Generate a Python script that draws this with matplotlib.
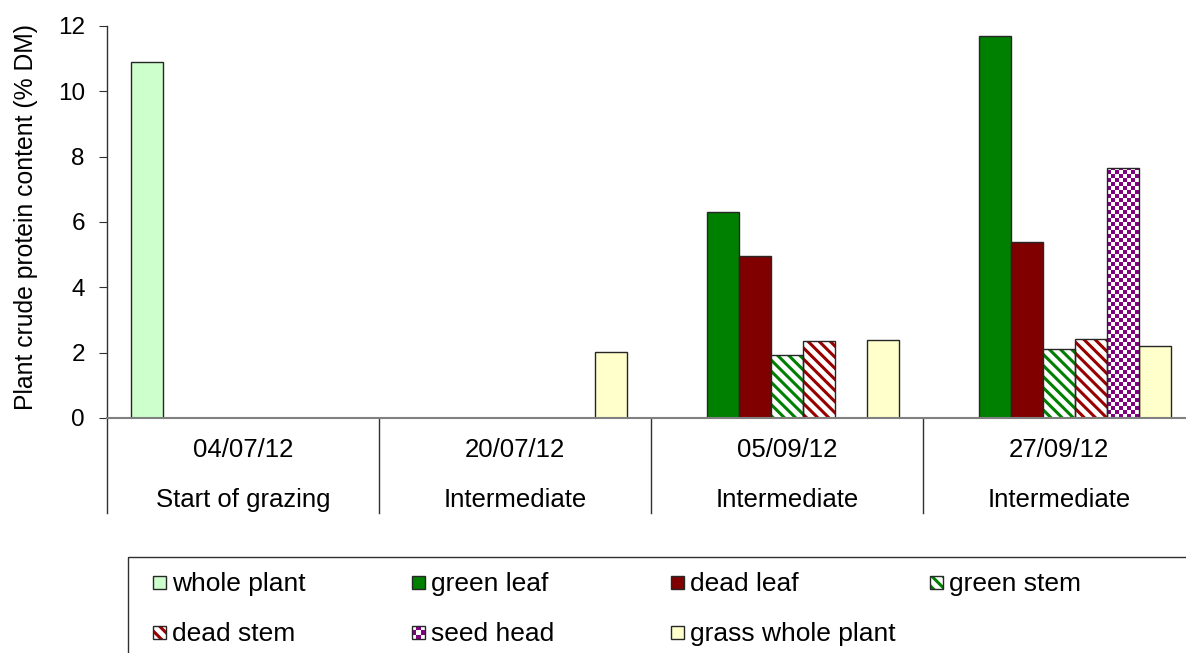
import matplotlib
matplotlib.use("Agg")
import matplotlib.pyplot as plt
from matplotlib.patches import Rectangle
from matplotlib.colors import ListedColormap
from matplotlib.transforms import blended_transform_factory
import numpy as np

plt.rcParams['font.family'] = ['Liberation Sans', 'DejaVu Sans']
plt.rcParams['hatch.linewidth'] = 2.2

dates = ["04/07/12", "20/07/12", "05/09/12", "27/09/12"]
stages = ["Start of grazing", "Intermediate", "Intermediate", "Intermediate"]
series_names = ["whole plant", "green leaf", "dead leaf", "green stem",
                "dead stem", "seed head", "grass whole plant"]
# values per series across the 4 dates (None = no bar)
whole_plant = [10.9, None, None, None]
green_leaf = [None, None, 6.32, 11.68]
dead_leaf = [None, None, 4.95, 5.38]
green_stem = [None, None, 1.93, 2.11]
dead_stem = [None, None, 2.36, 2.43]
seed_head = [None, None, None, 7.65]
grass_whole_plant = [None, 2.02, 2.40, 2.20]
all_values = [whole_plant, green_leaf, dead_leaf, green_stem, dead_stem,
              seed_head, grass_whole_plant]

# style: (kind, facecolor, patterncolor)
styles = [
    ("solid", "#CCFFCC", None),
    ("solid", "#008000", None),
    ("solid", "#800000", None),
    ("stripe", "white", "#008000"),
    ("stripe", "white", "#990000"),
    ("checker", "white", "#800080"),
    ("solid", "#FFFFCC", None),
]
EDGE = "#262626"

W, H = 1186, 653
fig = plt.figure(figsize=(W / 100, H / 100), dpi=100)
x0, x1 = 107, 107 + 4 * 272
y0, y1 = 418, 26
ax = fig.add_axes([x0 / W, (H - y0) / H, (x1 - x0) / W, (y0 - y1) / H])

bw = 32 / 272
x = np.arange(len(dates))
cell = 4  # checker cell size in pixels
for k, (vals, (kind, fc, pc)) in enumerate(zip(all_values, styles)):
    xs = [x[i] + (k - 3) * bw for i, v in enumerate(vals) if v is not None]
    ys = [v for v in vals if v is not None]
    if not xs:
        continue
    if kind == "solid":
        ax.bar(xs, ys, width=bw, color=fc, edgecolor=EDGE, linewidth=1.0, zorder=2)
    elif kind == "stripe":
        ax.bar(xs, ys, width=bw, color=fc, edgecolor=pc, hatch="\\\\\\", linewidth=0,
               zorder=2)
        ax.bar(xs, ys, width=bw, fill=False, edgecolor=EDGE, linewidth=1.0, zorder=3)
    else:
        bars = ax.bar(xs, ys, width=bw, color=fc, linewidth=0, zorder=2)
        nx, ny = (x1 - x0) // cell, (y0 - y1) // cell
        checker = (np.add.outer(np.arange(ny), np.arange(nx)) % 2).astype(float)
        for b in bars:
            im = ax.imshow(checker, extent=(-0.5, 3.5, 0, 12), origin="lower",
                           cmap=ListedColormap(["white", pc]), interpolation="nearest",
                           aspect="auto", zorder=2.5)
            im.set_clip_path(b)
        ax.bar(xs, ys, width=bw, fill=False, edgecolor=EDGE, linewidth=1.0, zorder=3)

ax.set_xlim(-0.5, 3.5)
ax.set_ylim(0, 12)
for s in ["top", "right", "bottom"]:
    ax.spines[s].set_visible(False)
ax.spines["left"].set_color("#303030")
ax.spines["left"].set_linewidth(1.0)
ax.axhline(0, color="#808080", linewidth=1.5, zorder=4, clip_on=False)
ax.set_yticks(np.arange(0, 13, 2))
ax.tick_params(axis="y", direction="out", length=6, color="#303030", labelsize=17.5,
               pad=10)
ax.set_xticks([])
ax.set_ylabel("Plant crude protein content (% DM)", fontsize=17.8)
ax.yaxis.set_label_coords(-(107 - 38) / 1088, (418 - 217) / 392)

trans = blended_transform_factory(ax.transData, ax.transAxes)
sep_bottom = -(513 - 418) / (418 - 26)
for i in range(len(dates)):
    ax.plot([i - 0.5, i - 0.5], [0, sep_bottom], transform=trans, color="#303030",
            linewidth=1.0, clip_on=False)
    ax.text(i, -(457 - 418) / 392, dates[i], transform=trans, ha="center",
            va="baseline", fontsize=18.5)
    ax.text(i, -(507 - 418) / 392, stages[i], transform=trans, ha="center",
            va="baseline", fontsize=18.5)

# legend (manual, frame extends beyond figure as in the reference)
leg_ax = fig.add_axes([0, 0, 1, 1], facecolor="none")
leg_ax.set_xlim(0, W)
leg_ax.set_ylim(H, 0)
leg_ax.axis("off")
leg_ax.add_patch(Rectangle((128, 557), 1100, 200, fill=False, edgecolor="#303030",
                           linewidth=1.0))
col_x = [153, 412, 671, 930]
row_base = [591, 641]
ms = 13
for k, name in enumerate(series_names):
    cx = col_x[k % 4]
    base = row_base[k // 4]
    top = base - 15
    kind, fc, pc = styles[k]
    if kind == "solid":
        leg_ax.add_patch(Rectangle((cx, top), ms, ms, facecolor=fc,
                                   edgecolor=EDGE, linewidth=1.0))
    elif kind == "stripe":
        leg_ax.add_patch(Rectangle((cx, top), ms, ms, facecolor=fc,
                                   edgecolor=pc, hatch="\\\\\\", linewidth=0))
        leg_ax.add_patch(Rectangle((cx, top), ms, ms, fill=False,
                                   edgecolor=EDGE, linewidth=1.0))
    else:
        r = Rectangle((cx, top), ms, ms, facecolor=fc, linewidth=0)
        leg_ax.add_patch(r)
        small = (np.add.outer(np.arange(3), np.arange(3)) % 2).astype(float)
        im = leg_ax.imshow(small, extent=(cx, cx + ms, top + ms, top),
                           cmap=ListedColormap(["white", pc]), interpolation="nearest",
                           aspect="auto", zorder=2)
        im.set_clip_path(r)
        leg_ax.add_patch(Rectangle((cx, top), ms, ms, fill=False,
                                   edgecolor=EDGE, linewidth=1.0, zorder=3))
    leg_ax.text(cx + 19, base, name, ha="left", va="baseline", fontsize=19)
leg_ax.set_xlim(0, W)
leg_ax.set_ylim(H, 0)

fig.savefig("out.png", dpi=100)
